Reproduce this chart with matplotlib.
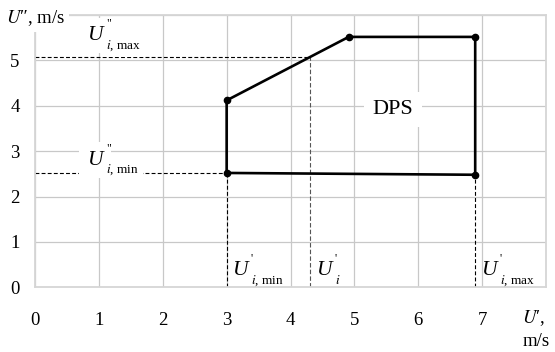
import matplotlib
matplotlib.use('Agg')
import matplotlib.pyplot as plt

plt.rcParams['font.family'] = ['Liberation Serif', 'DejaVu Serif']
plt.rcParams['mathtext.fontset'] = 'stix'

# DPS polygon (U', U'') vertices
dps_x = [3.0, 3.0, 4.91, 6.89, 6.89, 3.0]
dps_y = [2.52, 4.12, 5.52, 5.52, 2.48, 2.52]

# characteristic speeds
u1_min = 3.0
u1_i = 4.31
u1_max = 6.89
u2_min = 2.52
u2_max = 5.07
u2_at_max = 2.48

x_ticks = [0, 1, 2, 3, 4, 5, 6, 7, 8]
x_labels = ['0', '1', '2', '3', '4', '5', '6', '7', '']
y_ticks = [0, 1, 2, 3, 4, 5, 6]
y_labels = ['0', '1', '2', '3', '4', '5', '']

grid_c = '#c8c8c8'

fig = plt.figure(figsize=(5.55, 3.52), dpi=100)
ax = fig.add_axes([0.063, 0.184, 0.921, 0.773])
ax.set_xlim(0, 8)
ax.set_ylim(0, 6)
ax.set_xticks(x_ticks)
ax.set_xticklabels(x_labels)
ax.set_yticks(y_ticks)
ax.set_yticklabels(y_labels)
ax.tick_params(length=0, labelsize=13.5)
ax.tick_params(axis='x', pad=18)
ax.tick_params(axis='y', pad=11)
ax.grid(True, color=grid_c, lw=0.9)
ax.set_axisbelow(True)
for s in ax.spines.values():
    s.set_color('#d6d6d6')
    s.set_linewidth(1.3)

# dashed guide lines
dash = dict(color='black', lw=0.8, ls=(0, (3.5, 2)), zorder=2)
ax.plot([0, u1_min], [u2_min, u2_min], **dash)
ax.plot([u1_min, u1_min], [0, u2_min], **dash)
ax.plot([0, u1_i], [u2_max, u2_max], **dash)
ax.plot([u1_i, u1_i], [0, u2_max], color='#555555', lw=0.8, ls=(0, (4, 2)), zorder=2)
ax.plot([u1_max, u1_max], [0, u2_at_max], **dash)

# DPS boundary
ax.plot(dps_x, dps_y, color='black', lw=1.9, zorder=3)
ax.plot(dps_x[:-1], dps_y[:-1], 'o', color='black', ms=4.5, zorder=4)

wb = dict(facecolor='white', edgecolor='none', pad=3)
ax.text(5.6, 3.92, 'DPS', fontsize=16, ha='center', va='center',
        bbox=dict(facecolor='white', edgecolor='none', pad=6), zorder=5)


def speed_label(x, y, prime, sub, box=False):
    # big italic U with a small prime mark and a small subscript
    bb = dict(facecolor='white', edgecolor='none', pad=6) if box else None
    sb = wb if box else None
    ax.text(x, y, 'U', fontsize=15.5, style='italic', ha='left', va='center', bbox=bb, zorder=5)
    ax.annotate(prime, (x, y), xytext=(13.5, 9), textcoords='offset points',
                fontsize=8.5, ha='left', va='center', zorder=6)
    ax.annotate(sub, (x, y), xytext=(13.5, -7), textcoords='offset points',
                fontsize=9.5, ha='left', va='center', bbox=sb, zorder=6)


speed_label(0.82, 5.55, '"', r'$i$, max', box=True)
speed_label(0.82, 2.8, '"', r'$i$, min', box=True)
speed_label(3.08, 0.36, "'", r'$i$, min')
speed_label(4.4, 0.36, "'", r'$i$')
speed_label(6.98, 0.36, "'", r'$i$, max')

# axis titles
ax.text(-0.45, 5.94, r"$U$″, m/s", fontsize=13.5, ha='left', va='center', bbox=wb, zorder=5, clip_on=False)
ax.text(7.8, -0.67, r"$U$′,", fontsize=13.5, ha='center', va='center', clip_on=False)
ax.text(7.85, -1.2, 'm/s', fontsize=13.5, ha='center', va='center', clip_on=False)

fig.savefig('out.png', dpi=100)
